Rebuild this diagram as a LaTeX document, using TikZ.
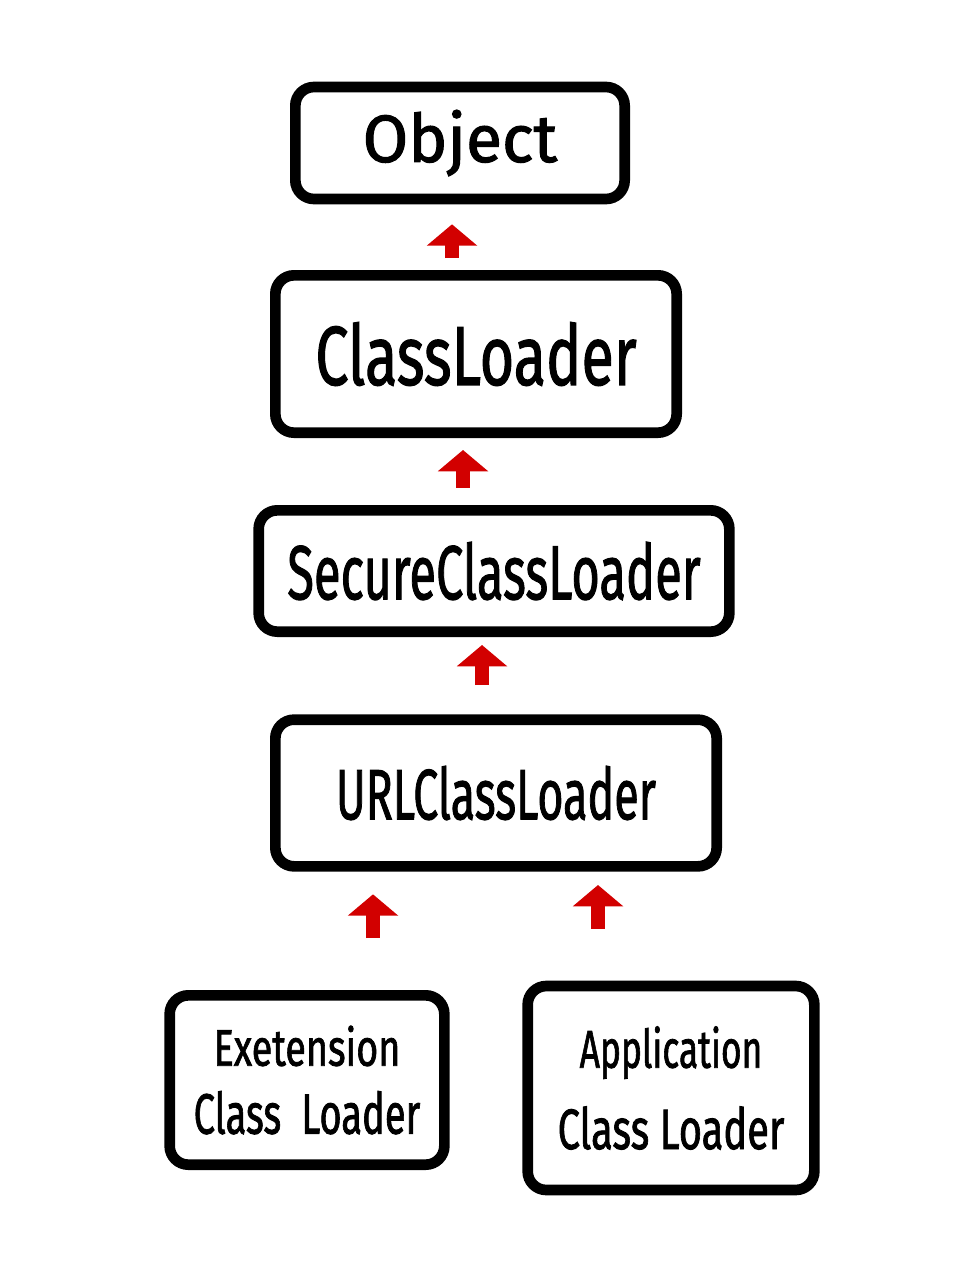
\documentclass[tikz,border=0pt]{standalone}
\usepackage{fontspec}
\setmainfont{Fira Sans}
\newfontfamily\hwfont{Fira Sans}[FakeBold=1.6]
\usetikzlibrary{arrows.meta}
\definecolor{arrred}{RGB}{210,0,0}
\begin{document}
\begin{tikzpicture}[x=0.75pt,y=-0.75pt,
  box/.style={draw=black, line width=8pt, rounded corners=14pt, fill=white, inner sep=0pt, font=\hwfont},
  uparr/.style={draw=arrred, line width=10.5pt, -{Triangle[length=16pt,width=37pt]}}]
\useasboundingbox[fill=white] (0,0) rectangle (973,1280);

\node[box, minimum width=247pt, minimum height=84pt] (obj) at (460,143) {\resizebox{146pt}{39pt}{Object}};
\node[box, minimum width=301pt, minimum height=118pt] (cl) at (476,354) {\resizebox{241pt}{47pt}{ClassLoader}};
\node[box, minimum width=353pt, minimum height=91pt] (sec) at (494,571) {\resizebox{310pt}{43pt}{SecureClassLoader}};
\node[box, minimum width=331pt, minimum height=110pt] (url) at (496,793) {\resizebox{240pt}{40pt}{URLClassLoader}};
\node[box, minimum width=206pt, minimum height=127pt, align=center, font=\hwfont\fontsize{10pt}{51pt}\selectfont] (ext) at (307,1080)
  {\resizebox{140pt}{30pt}{Exetension}\\\resizebox{170pt}{32pt}{Class\ \ Loader}};
\node[box, minimum width=215pt, minimum height=153pt, align=center, font=\hwfont\fontsize{10pt}{61pt}\selectfont] (app) at (671,1088)
  {\resizebox{137pt}{31pt}{Application}\\\resizebox{170pt}{32pt}{Class Loader}};

\coordinate (a1) at (452,0);
\coordinate (a2) at (463,0);
\coordinate (a3) at (482,0);
\coordinate (a4) at (373,0);
\coordinate (a5) at (598,0);

\draw[uparr, shorten <=9pt, shorten >=15pt] (cl.north -| a1) -- (obj.south -| a1);
\draw[uparr, shorten <=13pt, shorten >=9pt] (sec.north -| a2) -- (cl.south -| a2);
\draw[uparr, shorten <=22pt, shorten >=6pt] (url.north -| a3) -- (sec.south -| a3);
\draw[uparr, shorten <=39pt, shorten >=17pt] (ext.north -| a4) -- (url.south -| a4);
\draw[uparr, shorten <=39pt, shorten >=10pt] (app.north -| a5) -- (url.south -| a5);
\end{tikzpicture}
\end{document}
